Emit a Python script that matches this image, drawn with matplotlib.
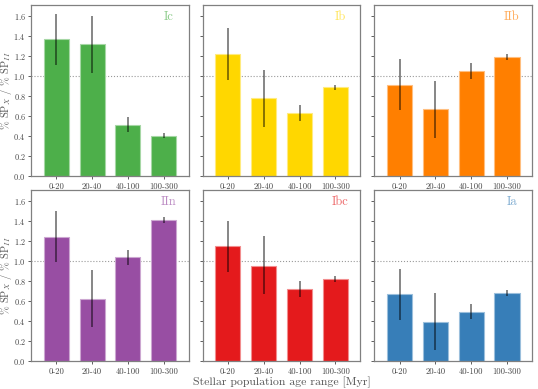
import numpy as np
import matplotlib
matplotlib.use("Agg")
import matplotlib.pyplot as plt

plt.rcParams['font.family'] = 'serif'
plt.rcParams['font.serif'] = ['cmr10', 'DejaVu Serif']
plt.rcParams['mathtext.fontset'] = 'cm'
plt.rcParams['axes.unicode_minus'] = False
plt.rcParams['axes.formatter.use_mathtext'] = True

# age bins
age_bins = ["0-20", "20-40", "40-100", "100-300"]

# SN types, panel order (row by row)
sn_types = ["Ic", "Ib", "IIb", "IIn", "Ibc", "Ia"]
sn_colors = ["#4daf4a", "#ffd700", "#ff7f00", "#984ea3", "#e41a1c", "#377eb8"]

# ratio values per type
ratio_ic = [1.37, 1.32, 0.51, 0.40]
ratio_ib = [1.22, 0.78, 0.63, 0.89]
ratio_iib = [0.91, 0.67, 1.05, 1.19]
ratio_iin = [1.24, 0.62, 1.04, 1.41]
ratio_ibc = [1.15, 0.95, 0.72, 0.82]
ratio_ia = [0.67, 0.39, 0.49, 0.68]

# error bar lower / upper ends
low_ic = [1.11, 1.03, 0.44, 0.38]
high_ic = [1.62, 1.60, 0.59, 0.43]
low_ib = [0.96, 0.49, 0.55, 0.86]
high_ib = [1.48, 1.06, 0.71, 0.91]
low_iib = [0.66, 0.38, 0.97, 1.16]
high_iib = [1.17, 0.95, 1.13, 1.22]
low_iin = [0.99, 0.34, 0.96, 1.38]
high_iin = [1.50, 0.91, 1.11, 1.44]
low_ibc = [0.89, 0.67, 0.64, 0.79]
high_ibc = [1.40, 1.25, 0.80, 0.85]
low_ia = [0.41, 0.11, 0.42, 0.65]
high_ia = [0.92, 0.68, 0.57, 0.71]

ratios = [ratio_ic, ratio_ib, ratio_iib, ratio_iin, ratio_ibc, ratio_ia]
lows = [low_ic, low_ib, low_iib, low_iin, low_ibc, low_ia]
highs = [high_ic, high_ib, high_iib, high_iin, high_ibc, high_ia]

fig, axes = plt.subplots(2, 3, figsize=(5.38, 3.89), dpi=100, sharey=True)
fig.subplots_adjust(left=0.058, right=0.989, top=0.987, bottom=0.072,
                    wspace=0.089, hspace=0.082)

x = np.arange(len(age_bins))
for i, ax in enumerate(axes.flat):
    vals = np.array(ratios[i])
    err = np.array([vals - np.array(lows[i]), np.array(highs[i]) - vals])
    col = sn_colors[i]
    light = matplotlib.colors.to_rgba(col)
    light = tuple(0.5 * c + 0.5 for c in light[:3])
    ax.bar(x, vals, width=0.7, color=col, edgecolor=light, linewidth=0.8, zorder=2)
    ax.errorbar(x, vals, yerr=err, fmt='none', ecolor='black', elinewidth=1.1,
                alpha=0.6, capsize=0, zorder=3)
    ax.axhline(1.0, color='#999999', ls=':', lw=0.8, zorder=1)
    ax.text(0.87, 0.93, sn_types[i], transform=ax.transAxes, color=col, alpha=0.65,
            fontsize=9, ha='center', va='center')
    ax.set_xlim(-0.7, 3.7)
    ax.set_ylim(0, 1.71)
    ax.set_xticks(x)
    ax.set_xticklabels(age_bins)
    ax.set_yticks(np.arange(0, 1.61, 0.2))
    ax.tick_params(labelsize=6.2, colors='#444444', length=2.5, width=0.6, pad=2)
    ax.tick_params(axis='y', pad=1.5, labelsize=5.9)
    for sp in ax.spines.values():
        sp.set_color('#808080')
        sp.set_linewidth(0.9)

for ax in axes[:, 0]:
    ax.set_ylabel(r'$\%$ SP$_X$ / $\%$ SP$_{II}$', fontsize=7.5, color='#555555')
    ax.yaxis.set_label_coords(-0.108, 0.5)
for ax in axes[:, 1:].flat:
    ax.tick_params(labelleft=False)

axes[1, 1].set_xlabel('Stellar population age range [Myr]', fontsize=8.5,
                      color='#555555', labelpad=1)

fig.savefig('out.png', dpi=100)
